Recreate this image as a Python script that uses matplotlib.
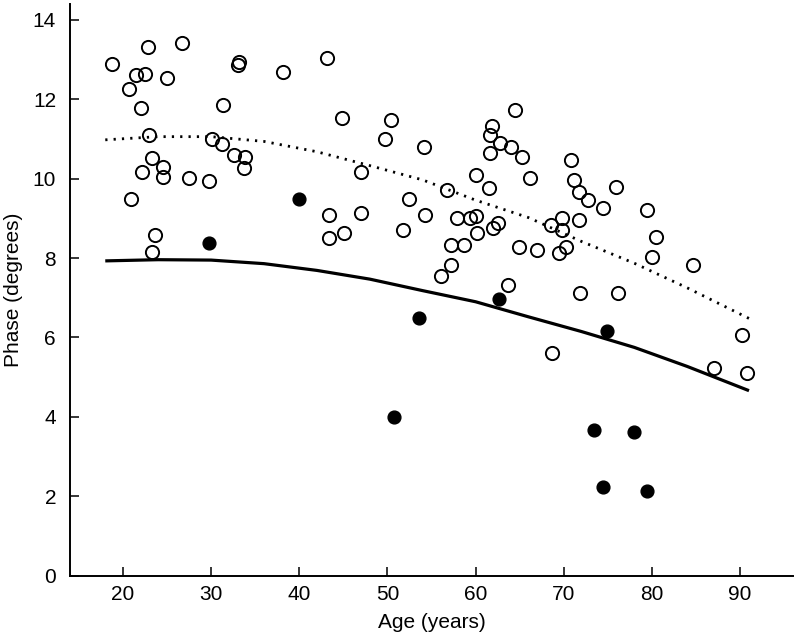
import matplotlib
matplotlib.use("Agg")
import matplotlib.pyplot as plt

plt.rcParams['font.family'] = ['Liberation Sans', 'DejaVu Sans']

# open circles (age, phase)
open_age = [18.8, 22.9, 26.7, 21.5, 22.5, 20.7, 25.0, 33.2, 33.1, 38.1,
            22.0, 31.3, 23.0, 30.1, 31.2, 32.6, 33.8, 33.7, 23.3, 22.2,
            24.5, 24.5, 27.5, 29.75, 20.95, 23.6, 23.3,
            43.2, 44.9, 50.4, 49.7, 54.1, 47.0, 52.4, 43.35, 47.0, 54.3,
            43.35, 45.1, 51.75,
            64.5, 61.9, 61.6, 62.8, 64.0, 61.6, 65.3, 70.8, 60.0, 66.2,
            71.1, 71.7, 72.7, 75.9, 56.8, 61.5, 74.5, 57.9, 59.4, 60.0,
            62.5, 62.0, 60.2, 68.6, 69.8, 69.8, 71.7, 57.2, 58.7, 64.9,
            67.0, 70.3, 69.4, 57.2, 56.1, 63.7, 71.8, 76.2,
            79.4, 80.4, 80.0, 84.7, 68.7, 90.2, 87.0, 90.8]
open_phase = [12.90, 13.32, 13.41, 12.61, 12.65, 12.27, 12.55, 12.94, 12.86, 12.69,
              11.77, 11.85, 11.10, 11.01, 10.87, 10.59, 10.54, 10.26, 10.51, 10.17,
              10.30, 10.05, 10.01, 9.95, 9.50, 8.58, 8.16,
              13.03, 11.52, 11.48, 11.01, 10.80, 10.17, 9.50, 9.08, 9.13, 9.08,
              8.50, 8.62, 8.71,
              11.73, 11.32, 11.10, 10.91, 10.81, 10.64, 10.55, 10.47, 10.09, 10.01,
              9.96, 9.67, 9.46, 9.80, 9.71, 9.76, 9.27, 9.00, 9.02, 9.06,
              8.89, 8.75, 8.62, 8.83, 9.02, 8.71, 8.96, 8.33, 8.33, 8.29,
              8.20, 8.29, 8.14, 7.82, 7.55, 7.32, 7.11, 7.11,
              9.21, 8.54, 8.03, 7.82, 5.62, 6.06, 5.22, 5.10]

# filled circles
filled_age = [29.75, 40.0, 50.7, 53.6, 62.7, 74.9, 73.4, 78.0, 74.5, 79.45]
filled_phase = [8.37, 9.50, 4.00, 6.50, 6.97, 6.17, 3.67, 3.61, 2.24, 2.14]

# fitted curves
curve_age = [18, 24, 30, 36, 42, 48, 54, 60, 66, 72, 78, 84, 91]
solid_phase = [7.93, 7.96, 7.95, 7.86, 7.69, 7.47, 7.18, 6.90, 6.52, 6.15, 5.75, 5.27, 4.66]
dotted_phase = [10.98, 11.06, 11.06, 10.94, 10.68, 10.33, 9.97, 9.46, 9.02, 8.42, 7.87, 7.25, 6.48]

fig = plt.figure(figsize=(7.99, 6.40), dpi=100)
ax = fig.add_axes([0.0876, 0.1006, 0.905, 0.893])

ax.plot(curve_age, solid_phase, color='black', lw=2.3, solid_capstyle='butt')
ax.plot(curve_age, dotted_phase, color='black', lw=2.0, linestyle=(0, (0.8, 2.2)))
ax.plot(open_age, open_phase, 'o', ms=9.5, mfc='none', mec='black', mew=1.4)
ax.plot(filled_age, filled_phase, 'o', ms=9.2, mfc='black', mec='black')

ax.set_xlim(14, 96)
ax.set_ylim(0, 14.4)
ax.set_xticks([20, 30, 40, 50, 60, 70, 80, 90])
ax.set_yticks([0, 2, 4, 6, 8, 10, 12, 14])

for s in ['top', 'right']:
    ax.spines[s].set_visible(False)
for s in ['left', 'bottom']:
    ax.spines[s].set_linewidth(1.4)

ax.tick_params(axis='both', direction='in', length=6.5, width=1.1, labelsize=15)
ax.tick_params(axis='x', pad=7)
ax.tick_params(axis='y', pad=10)

ax.set_xlabel('Age (years)', fontsize=15, labelpad=6)
ax.set_ylabel('Phase (degrees)', fontsize=15, labelpad=7)

fig.savefig('out.png', dpi=100)
